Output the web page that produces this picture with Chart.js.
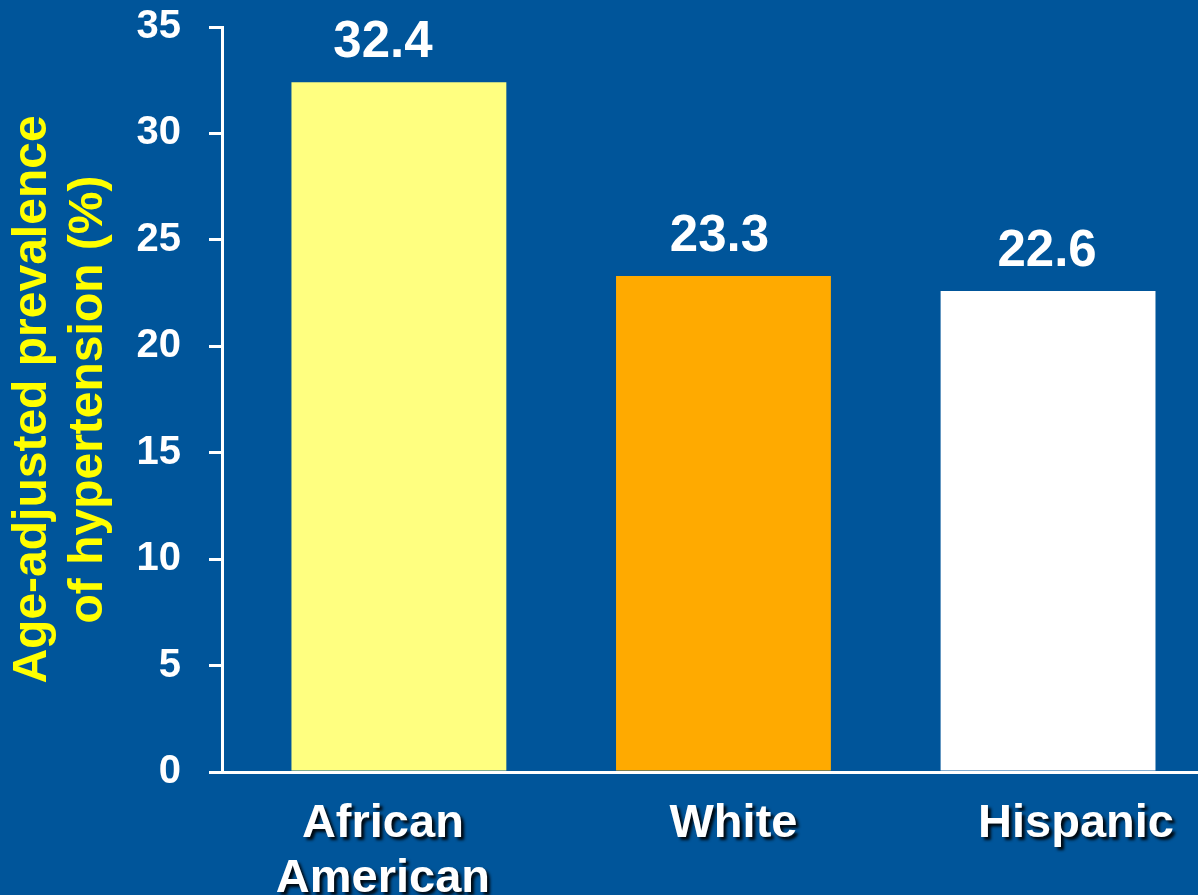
<!DOCTYPE html>
<html>
<head>
<meta charset="utf-8">
<title>Age-adjusted prevalence of hypertension</title>
<script src="https://cdn.jsdelivr.net/npm/chart.js@4.4.1/dist/chart.umd.min.js"></script>
<style>
    html, body { margin: 0; padding: 0; background: #00559A; overflow: hidden; }
    canvas { display: block; }
</style>
</head>
<body>
<canvas id="prevalenceChart" width="1198" height="895"></canvas>
<script>
// groups on the x axis (each entry is the lines of its label)
const groups = [['African', 'American'], ['White'], ['Hispanic']];
// age-adjusted prevalence, %
const prevalence = [32.4, 23.3, 22.6];
const barColors = ['#FFFF80', '#FFAA00', '#FFFFFF'];
const yMax = 35;
const yStep = 5;
const yTitle = ['Age-adjusted prevalence', 'of hypertension (%)'];

const FONT = 'Arial, "Liberation Sans", Helvetica, sans-serif';

// small nudges so the text sits where the slide had it
const valueShift = [-16, -4, -1];
const labelShift = [-16, 10, 28];

// numbers above the bars
const barValueLabels = {
    id: 'barValueLabels',
    afterDatasetsDraw(chart) {
        const ctx = chart.ctx;
        const meta = chart.getDatasetMeta(0);
        ctx.save();
        ctx.font = 'bold 51px ' + FONT;
        ctx.fillStyle = '#FFFFFF';
        ctx.textAlign = 'center';
        ctx.textBaseline = 'alphabetic';
        meta.data.forEach((bar, i) => {
            ctx.fillText(prevalence[i].toFixed(1), bar.x + valueShift[i], bar.y - 25);
        });
        ctx.restore();
    }
};

// group names under the axis, with a drop shadow
const groupLabels = {
    id: 'groupLabels',
    afterDraw(chart) {
        const ctx = chart.ctx;
        const xScale = chart.scales.x;
        ctx.save();
        ctx.font = 'bold 47px ' + FONT;
        ctx.fillStyle = '#FFFFFF';
        ctx.textAlign = 'center';
        ctx.textBaseline = 'alphabetic';
        ctx.shadowColor = 'rgba(0, 0, 0, 0.9)';
        ctx.shadowOffsetX = 3;
        ctx.shadowOffsetY = 3;
        ctx.shadowBlur = 3;
        groups.forEach((lines, i) => {
            const x = xScale.getPixelForValue(i) + labelShift[i];
            lines.forEach((line, j) => {
                ctx.fillText(line, x, xScale.top + 65 + j * 55);
            });
        });
        ctx.restore();
    }
};

new Chart(document.getElementById('prevalenceChart'), {
    type: 'bar',
    data: {
        datasets: [{
            data: prevalence.map((v, i) => ({ x: i, y: v })),
            backgroundColor: barColors,
            borderWidth: 0,
            categoryPercentage: 1,
            barPercentage: 0.662
        }]
    },
    options: {
        responsive: false,
        animation: false,
        layout: { padding: { top: 27, right: 0, bottom: 0, left: 0 } },
        plugins: {
            legend: { display: false },
            tooltip: { enabled: false }
        },
        scales: {
            x: {
                type: 'linear',
                offset: false,
                min: -0.545,
                max: 2.462,
                // one tick per group, so bar widths follow the group spacing
                afterBuildTicks(scale) {
                    scale.ticks = groups.map((g, i) => ({ value: i }));
                },
                ticks: { display: false },
                grid: { display: true, drawOnChartArea: false, drawTicks: false },
                border: { display: true, color: '#FFFFFF', width: 3 },
                afterFit(scale) { scale.height = 123; }
            },
            y: {
                min: 0,
                max: yMax,
                ticks: {
                    stepSize: yStep,
                    color: '#FFFFFF',
                    padding: 28,
                    font: { family: FONT, size: 40, weight: 'bold' }
                },
                grid: {
                    drawOnChartArea: false,
                    drawTicks: true,
                    tickLength: 13,
                    color: '#FFFFFF',
                    lineWidth: 3
                },
                border: { display: true, color: '#FFFFFF', width: 3 },
                title: {
                    display: true,
                    text: yTitle,
                    color: '#FFFF00',
                    padding: { top: 5, bottom: 0 },
                    font: { family: FONT, size: 48, weight: 'bold', lineHeight: 1.17 }
                },
                afterFit(scale) {
                    scale.width = 222;
                    // the top label may overhang the plot; the layout padding covers it
                    scale.paddingTop = 0;
                    scale.paddingBottom = 0;
                }
            }
        }
    },
    plugins: [barValueLabels, groupLabels]
});
</script>
</body>
</html>
